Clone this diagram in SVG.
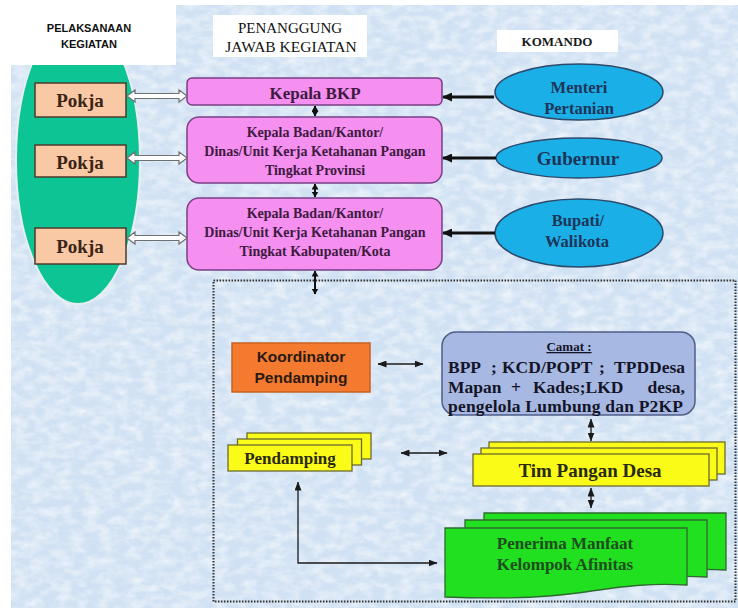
<svg xmlns="http://www.w3.org/2000/svg" width="738" height="608" viewBox="0 0 738 608">
<defs>
<style>
.serif{font-family:"Liberation Serif","Times New Roman",serif;font-weight:bold}
.sans{font-family:"Liberation Sans",Arial,sans-serif;font-weight:bold}
.mid{text-anchor:middle}
.pink{fill:#f590f1;stroke:#7a3f85;stroke-width:1.5}
.pinkt{fill:#3d1a40}
.pokja{fill:#f9c8a4;stroke:#4d3a2c;stroke-width:1.5}
.pokjat{fill:#3a2418;font-size:19px}
.blue{fill:#1bafe7;stroke:#2c4a6c;stroke-width:1.5}
.bluet{fill:#1c3558}
.yel{fill:#fbfb18;stroke:#6b6a2e;stroke-width:1.3}
.grn{fill:#20e020;stroke:#2e6a2e;stroke-width:1.3}
.hollow{fill:#fff;stroke:#707070;stroke-width:1.2}
.thick{fill:none;stroke:#111;stroke-width:3}
.mvert{fill:none;stroke:#111;stroke-width:2}
.thin{fill:none;stroke:#1a1a1a;stroke-width:1.3}
.white{fill:#fff}
</style>
<filter id="tex" x="0" y="0" width="100%" height="100%">
<feTurbulence type="fractalNoise" baseFrequency="0.07 0.12" numOctaves="3" seed="7"/>
<feColorMatrix type="matrix" values="0 0 0 0 1  0 0 0 0 1  0 0 0 0 1  0 0 0 1.1 -0.38"/>
</filter>
<marker id="mThick" markerUnits="userSpaceOnUse" markerWidth="10" markerHeight="9" refX="9" refY="4.5" orient="auto-start-reverse"><path d="M0,0 L10,4.5 L0,9 Z" fill="#111"/></marker>
<marker id="mVert" markerUnits="userSpaceOnUse" markerWidth="6" markerHeight="7" refX="5.5" refY="3.5" orient="auto-start-reverse"><path d="M0,0 L6,3.5 L0,7 Z" fill="#111"/></marker>
<marker id="mThin" markerUnits="userSpaceOnUse" markerWidth="9" markerHeight="7" refX="8.5" refY="3.5" orient="auto-start-reverse"><path d="M0,0 L9,3.5 L0,7 Z" fill="#1a1a1a"/></marker>
<path id="hol" d="M0,0 L8,-6 L8,-2.5 L52,-2.5 L52,-6 L60,0 L52,6 L52,2.5 L8,2.5 L8,6 Z"/>
<path id="doc" d="M0,0 H242 V57 C205,55 180,58 140,64 C100,70 50,71 0,69 Z"/>
</defs>

<!-- background -->
<rect x="0" y="0" width="738" height="608" fill="#ffffff"/>
<rect x="11" y="5" width="727" height="603" fill="#d0e1f3"/>
<rect x="11" y="5" width="727" height="603" filter="url(#tex)"/>

<!-- green ellipse (Pelaksanaan) -->
<g id="pelaksana-ellipse">
<ellipse cx="78" cy="160" rx="62" ry="144" fill="#0dc495" stroke="#e6eef0" stroke-width="2"/>
</g>

<!-- headers -->
<g id="hdr-pelaksanaan">
<rect class="white" x="11" y="5" width="165" height="60"/>
<text class="sans mid" x="89" y="32" font-size="11" fill="#111">PELAKSANAAN</text>
<text class="sans mid" x="89" y="48" font-size="11" fill="#111">KEGIATAN</text>
</g>
<g id="hdr-penanggung">
<rect class="white" x="213" y="15" width="154" height="42"/>
<text class="mid" x="290" y="33" font-family="'Liberation Serif','Times New Roman',serif" font-size="15" fill="#111">PENANGGUNG</text>
<text class="mid" x="291" y="52" font-family="'Liberation Serif','Times New Roman',serif" font-size="15.5" fill="#111">JAWAB KEGIATAN</text>
</g>
<g id="hdr-komando">
<rect class="white" x="497" y="30" width="121" height="22"/>
<text class="serif mid" x="557" y="46" font-size="13" fill="#1a1a1a">KOMANDO</text>
</g>

<!-- Pokja -->
<g id="pokja1"><rect class="pokja" x="35" y="83" width="91" height="34"/><text class="serif mid pokjat" x="80" y="107">Pokja</text></g>
<g id="pokja2"><rect class="pokja" x="35" y="145" width="91" height="32"/><text class="serif mid pokjat" x="80" y="169">Pokja</text></g>
<g id="pokja3"><rect class="pokja" x="35" y="228" width="91" height="36"/><text class="serif mid pokjat" x="80" y="253">Pokja</text></g>

<!-- Pink boxes -->
<g id="kepala-bkp">
<rect class="pink" x="187" y="78" width="255" height="27" rx="5"/>
<text class="serif mid pinkt" x="315" y="99" font-size="17">Kepala BKP</text>
</g>
<g id="kepala-prov">
<rect class="pink" x="187" y="117" width="255" height="66" rx="12"/>
<text class="serif mid pinkt" x="315" y="137" font-size="14">Kepala Badan/Kantor/</text>
<text class="serif mid pinkt" x="315" y="156" font-size="14">Dinas/Unit Kerja Ketahanan Pangan</text>
<text class="serif mid pinkt" x="315" y="175" font-size="14">Tingkat Provinsi</text>
</g>
<g id="kepala-kab">
<rect class="pink" x="187" y="198" width="255" height="72" rx="12"/>
<text class="serif mid pinkt" x="315" y="218" font-size="14">Kepala Badan/Kantor/</text>
<text class="serif mid pinkt" x="315" y="237" font-size="14">Dinas/Unit Kerja Ketahanan Pangan</text>
<text class="serif mid pinkt" x="315" y="256" font-size="14">Tingkat Kabupaten/Kota</text>
</g>

<!-- Blue ellipses -->
<g id="menteri">
<ellipse class="blue" cx="579" cy="92" rx="84" ry="28"/>
<text class="serif mid bluet" x="579" y="93" font-size="16.5">Menteri</text>
<text class="serif mid bluet" x="579" y="114" font-size="16.5">Pertanian</text>
</g>
<g id="gubernur">
<ellipse class="blue" cx="579" cy="158" rx="83" ry="20"/>
<text class="serif mid bluet" x="578" y="165" font-size="19">Gubernur</text>
</g>
<g id="bupati">
<ellipse class="blue" cx="579" cy="233" rx="84" ry="34"/>
<text class="serif mid bluet" x="578" y="226" font-size="16.5">Bupati/</text>
<text class="serif mid bluet" x="577" y="247" font-size="16.5">Walikota</text>
</g>

<!-- dotted region -->
<g id="desa-region">
<rect x="213.5" y="280.5" width="522" height="321" fill="none" stroke="#333" stroke-width="2" stroke-dasharray="1.6 1.4"/>
</g>

<g id="koordinator">
<rect x="232" y="343" width="138" height="49" fill="#f47a30" stroke="#c8611f" stroke-width="1.5"/>
<text class="sans mid" x="301" y="362" font-size="15.5" fill="#2a1a10">Koordinator</text>
<text class="sans mid" x="301" y="383" font-size="15.5" fill="#2a1a10">Pendamping</text>
</g>

<g id="camat">
<rect x="442" y="332" width="253" height="83" rx="14" fill="#a7b9e2" stroke="#505e88" stroke-width="1.5"/>
<text class="serif mid" x="569" y="351" font-size="13" fill="#141428" text-decoration="underline">Camat :</text>
<g class="serif" font-size="17.5" fill="#141428">
<text x="448" y="373">BPP</text>
<text x="491" y="373">;</text>
<text x="502" y="373">KCD/POPT</text>
<text x="599" y="373">;</text>
<text x="685" y="373" text-anchor="end">TPDDesa</text>
<text x="448" y="393">Mapan</text>
<text x="516" y="393" text-anchor="middle">+</text>
<text x="533" y="393">Kades;LKD</text>
<text x="685" y="393" text-anchor="end">desa,</text>
<text x="448" y="412" textLength="235" lengthAdjust="spacing">pengelola Lumbung dan P2KP</text>
</g>
</g>

<g id="pendamping">
<rect class="yel" x="247" y="433" width="124" height="26"/>
<rect class="yel" x="237.5" y="439" width="124" height="26"/>
<rect class="yel" x="228" y="445" width="124" height="26"/>
<text class="serif mid" x="290" y="464" font-size="17" fill="#2a2a10">Pendamping</text>
</g>

<g id="tim-pangan-desa">
<rect class="yel" x="489" y="442" width="236" height="32"/>
<rect class="yel" x="481" y="448" width="236" height="32"/>
<rect class="yel" x="473" y="454" width="236" height="32"/>
<text class="serif mid" x="590" y="477" font-size="19" fill="#2a2a10">Tim Pangan Desa</text>
</g>

<g id="penerima-manfaat">
<use href="#doc" class="grn" transform="translate(484,513)"/>
<use href="#doc" class="grn" transform="translate(465,520)"/>
<use href="#doc" class="grn" transform="translate(445,528)"/>
<text class="serif mid" x="565" y="549" font-size="17" fill="#1e4d1e">Penerima Manfaat</text>
<text class="serif mid" x="565" y="570" font-size="17" fill="#1e4d1e">Kelompok Afinitas</text>
</g>

<!-- connectors -->
<g id="connectors">
<use href="#hol" class="hollow" transform="translate(127,96)"/>
<use href="#hol" class="hollow" transform="translate(127,158)"/>
<use href="#hol" class="hollow" transform="translate(127,238)"/>
<line class="mvert" x1="315" y1="106" x2="315" y2="116" marker-start="url(#mVert)" marker-end="url(#mVert)"/>
<line class="mvert" x1="315" y1="184" x2="315" y2="197" marker-start="url(#mVert)" marker-end="url(#mVert)"/>
<line class="mvert" x1="315" y1="271" x2="315" y2="294" marker-start="url(#mVert)" marker-end="url(#mVert)"/>
<line class="thick" x1="494" y1="97" x2="443" y2="97" marker-end="url(#mThick)"/>
<line class="thick" x1="496" y1="158" x2="443" y2="158" marker-end="url(#mThick)"/>
<line class="thick" x1="495" y1="233" x2="443" y2="233" marker-end="url(#mThick)"/>
<line class="thin" x1="378" y1="364" x2="423" y2="364" marker-start="url(#mThin)" marker-end="url(#mThin)"/>
<line class="thin" x1="401" y1="453" x2="447" y2="453" marker-start="url(#mThin)" marker-end="url(#mThin)"/>
<line class="thin" x1="591" y1="419" x2="591" y2="441" marker-start="url(#mThin)" marker-end="url(#mThin)"/>
<line class="thin" x1="591" y1="488" x2="591" y2="508" marker-start="url(#mThin)" marker-end="url(#mThin)"/>
<path class="thin" d="M298,482 V563 H437" marker-start="url(#mThin)" marker-end="url(#mThin)"/>
</g>
</svg>
